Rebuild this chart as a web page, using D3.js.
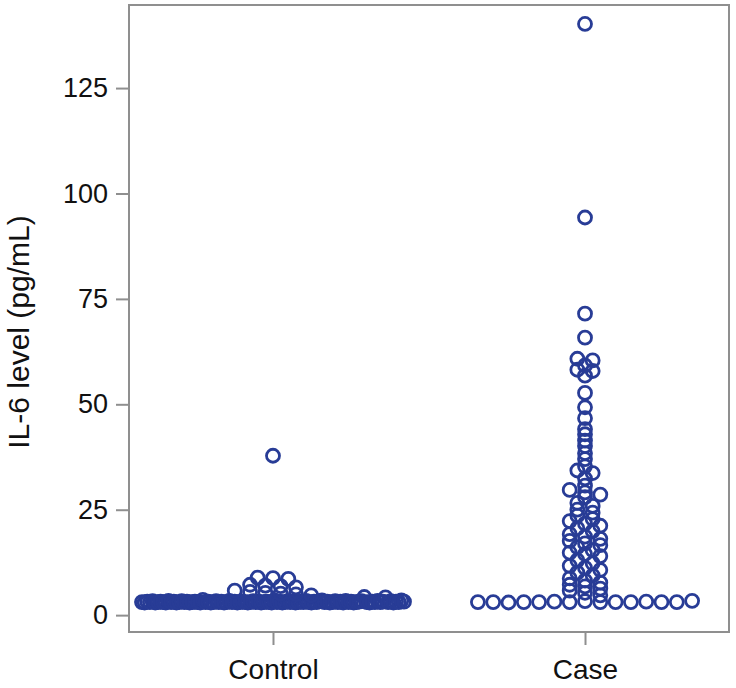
<!DOCTYPE html>
<html><head><meta charset="utf-8">
<script src="https://cdn.jsdelivr.net/npm/d3@7"></script>
<style>html,body{margin:0;padding:0;background:#fff;}svg{display:block;font-family:"Liberation Sans",Arial,Helvetica,sans-serif;}</style>
</head><body>
<svg id="chart" width="736" height="688"></svg>
<script>
// ---- data ----
const categories = ["Control", "Case"];
const yTicks = [0, 25, 50, 75, 100, 125];
const yLabel = "IL-6 level (pg/mL)";

const controlBaseline = [
  3.1,3.0,3.2,3.1,3.3,3.0,3.1,3.2,3.1,3.0,3.4,3.1,3.2,3.0,3.1,3.3,3.1,3.2,3.0,3.1,
  3.2,3.1,3.0,3.6,3.1,3.2,3.0,3.1,3.3,3.1,3.2,3.0,3.1,3.4,3.1,3.2,3.0,3.1,3.2,3.1,
  3.0,3.1,3.3,3.1,3.2,3.0,3.1,3.2,3.1,3.0,3.5,3.1,3.2,3.0,3.1,3.3,3.1,3.2,3.0,3.1,
  3.2,3.1,3.4,3.1,3.0,3.2,3.1,3.3,3.5,3.1,3.2,3.0,3.1,3.3,3.1,3.2,3.0,3.4,3.1,3.2,
  3.0,3.1,3.2,3.3,4.3,3.1,3.0,3.2,3.1,3.4,3.1,3.2,4.2,3.1,3.3,3.0,3.2,3.1,3.5,3.2
];
const controlHigh = [5.8,5.5,5.3,5.1,4.9,4.7, 7.2,7.0,6.9,6.6, 8.9,8.8,8.6, 37.8];

const caseBaseline = [3.1,3.1,3.0,3.1,3.1,3.2,3.1,3.3,3.1,3.1,3.1,3.2,3.1,3.1,3.4];
const caseHigh = [
  5.8,5.3,4.7, 7.2,6.8,6.3, 8.7,8.2,7.7, 10.1,9.4, 11.7,11.2,10.7, 13.0,12.3,
  14.8,14.5,14.0, 16.1,15.4, 17.6,17.0,16.6, 19.2,18.6,18.1, 20.6,19.9,
  22.3,21.7,21.2, 23.6,22.8, 25.0,24.3, 26.6,25.9, 28.0, 29.7,29.1,28.6,
  30.7, 32.4, 34.3,33.7, 35.3, 37.0, 38.4, 40.1, 41.4, 42.9, 44.1,
  46.7, 49.3, 52.7, 56.8, 58.2,57.9, 59.2, 60.8,60.4,
  65.8, 71.5, 94.3, 140.2
];

const groups = [
  {name: "Control", values: controlBaseline.concat(controlHigh)},
  {name: "Case", values: caseBaseline.concat(caseHigh)}
];

// ---- layout ----
const svg = d3.select("#chart");
const frame = {left: 129, right: 729, top: 5, bottom: 632};
const color = "#283c96";
const textColor = "#111";
const font = '"Liberation Sans",Arial,sans-serif';

const x = d3.scalePoint().domain(categories).range([frame.left, frame.right]).padding(0.4615);
const y = d3.scaleLinear().domain([-4, 144.7]).range([frame.bottom, frame.top]);

// frame
svg.append("rect")
  .attr("x", frame.left).attr("y", frame.top)
  .attr("width", frame.right - frame.left).attr("height", frame.bottom - frame.top)
  .attr("fill", "none").attr("stroke", "#8f8f8f").attr("stroke-width", 2);

// y axis
const yAxis = svg.append("g").attr("transform", `translate(${frame.left},0)`)
  .call(d3.axisLeft(y).tickValues(yTicks).tickSize(13).tickPadding(8));
yAxis.select(".domain").remove();
yAxis.selectAll("line").attr("stroke", "#8f8f8f").attr("stroke-width", 2);
yAxis.selectAll("text").attr("font-size", 27).attr("fill", textColor).attr("font-family", font);

// x axis
const xAxis = svg.append("g").attr("transform", `translate(0,${frame.bottom})`)
  .call(d3.axisBottom(x).tickSize(13).tickPadding(14));
xAxis.select(".domain").remove();
xAxis.selectAll("line").attr("stroke", "#8f8f8f").attr("stroke-width", 2);
xAxis.selectAll("text").attr("font-size", 28).attr("fill", textColor).attr("font-family", font);

// y label
svg.append("text")
  .attr("transform", `translate(29,332) rotate(-90)`)
  .attr("text-anchor", "middle")
  .attr("font-size", 30).attr("fill", textColor).attr("font-family", font)
  .text(yLabel);

// binned dot-plot layout (rows of points centered, compressed if too wide)
const binSize = 1.5, binStart = 3.0, spacing = 15.3, maxWidth = 262;
const points = [];
groups.forEach(g => {
  const bins = d3.group(g.values.map((v, i) => ({v, i})), d => Math.floor((d.v - binStart) / binSize));
  bins.forEach(arr => {
    const n = arr.length;
    const sp = n > 1 ? Math.min(spacing, maxWidth / (n - 1)) : 0;
    arr.forEach((d, j) => {
      points.push({cx: x(g.name) + (j - (n - 1) / 2) * sp, cy: y(d.v)});
    });
  });
});

svg.append("g").selectAll("circle").data(points).join("circle")
  .attr("cx", d => d.cx).attr("cy", d => d.cy).attr("r", 6.5)
  .attr("fill", "none").attr("stroke", color).attr("stroke-width", 2.8);
</script>
</body></html>
